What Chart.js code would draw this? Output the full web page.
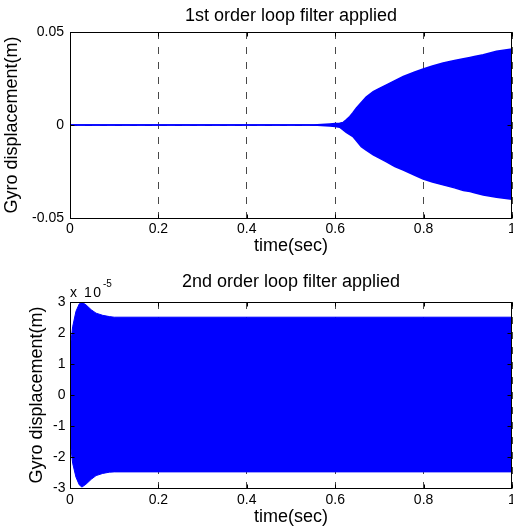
<!DOCTYPE html>
<html>
<head>
<meta charset="utf-8">
<script src="https://cdn.jsdelivr.net/npm/chart.js@4/dist/chart.umd.min.js"></script>
<style>
  html, body { margin: 0; padding: 0; background: #fff; overflow: hidden; width: 513px; height: 532px; }
  .wrap { position: absolute; left: 0; }
  canvas { display: block; }
</style>
</head>
<body>
<div class="wrap" style="top:0px"><canvas id="c1" width="525" height="258"></canvas></div>
<div class="wrap" style="top:258px"><canvas id="c2" width="525" height="274"></canvas></div>
<script>
// ---------- data ----------
// Top panel: envelope of the oscillating displacement (m), 1st order loop filter
const time1 = [0, 0.55, 0.588, 0.6, 0.61, 0.618, 0.625, 0.633, 0.64, 0.648, 0.659, 0.67, 0.686, 0.7, 0.716, 0.735, 0.754, 0.78, 0.799, 0.82, 0.844, 0.87, 0.89, 0.905, 0.915, 0.935, 0.965, 1];
const upper1 = [0, 0, 0.0006, 0.0008, 0.001, 0.0014, 0.0028, 0.0046, 0.0066, 0.0091, 0.0121, 0.015, 0.018, 0.0197, 0.0216, 0.0239, 0.0261, 0.0285, 0.0301, 0.0317, 0.0333, 0.0347, 0.0356, 0.0363, 0.0368, 0.0378, 0.0396, 0.0409];
const lower1 = [0, 0, -0.0006, -0.0008, -0.0012, -0.0026, -0.004, -0.0052, -0.0062, -0.0085, -0.0116, -0.0135, -0.016, -0.0178, -0.0198, -0.0223, -0.0242, -0.027, -0.029, -0.0306, -0.0322, -0.0338, -0.0352, -0.0358, -0.0364, -0.0376, -0.0388, -0.0399];

// Bottom panel: envelope in units of 1e-5 m, 2nd order loop filter
const time2 = [0, 0.002, 0.006, 0.0135, 0.021, 0.027, 0.036, 0.048, 0.059, 0.074, 0.089, 0.1, 1];
const upper2 = [0.8, 1.7, 2.2, 2.7, 2.94, 2.99, 2.91, 2.75, 2.64, 2.57, 2.53, 2.51, 2.51];
const lower2 = [-0.8, -1.7, -2.2, -2.65, -2.9, -2.97, -2.88, -2.72, -2.6, -2.53, -2.49, -2.48, -2.48];

// Tick labels
const xTickLabels = ['0', '0.2', '0.4', '0.6', '0.8', '1'];
const yTickLabels1 = ['-0.05', '0', '0.05'];
const yTickLabels2 = ['-3', '-2', '-1', '0', '1', '2', '3'];

const title1 = '1st order loop filter applied';
const title2 = '2nd order loop filter applied';
const xTitle = 'time(sec)';
const yTitle = 'Gyro displacement(m)';
const exponentBase = 'x 10';
const exponentPower = '-5';

// ---------- styling ----------
const FONT = "'Liberation Sans', Arial, Helvetica, sans-serif";
Chart.defaults.font.family = FONT;
Chart.defaults.color = '#000';
const BLUE = '#0000ff';
const GRID = 'rgba(40,40,40,0.85)';

function pts(t, v) { return t.map((x, i) => ({x: x, y: v[i]})); }

// Box + inward tick marks (MATLAB style)
const boxPlugin = {
  id: 'boxPlugin',
  afterDraw(chart) {
    const {ctx, chartArea: a, scales} = chart;
    const L = Math.floor(a.left) + 0.5, R = Math.ceil(a.right) - 0.5;
    const T = Math.floor(a.top) + 0.5, B = Math.floor(a.bottom) + 0.5;
    ctx.save();
    ctx.strokeStyle = '#000';
    ctx.lineWidth = 1;
    ctx.setLineDash([]);
    ctx.strokeRect(L, T, R - L, B - T);
    const len = 4;
    ctx.beginPath();
    scales.x.ticks.forEach(tk => {
      const px = Math.round(scales.x.getPixelForValue(tk.value)) + 0.5;
      ctx.moveTo(px, B); ctx.lineTo(px, B - len);
      ctx.moveTo(px, T); ctx.lineTo(px, T + len);
    });
    scales.y.ticks.forEach(tk => {
      const py = Math.round(scales.y.getPixelForValue(tk.value)) + 0.5;
      ctx.moveTo(L, py); ctx.lineTo(L + len, py);
      ctx.moveTo(R, py); ctx.lineTo(R - len, py);
    });
    ctx.stroke();
    ctx.restore();
  }
};

// exponent label for the bottom panel
const exponentPlugin = {
  id: 'exponentPlugin',
  afterDraw(chart) {
    if (!chart.options.plugins.exponentPlugin || !chart.options.plugins.exponentPlugin.show) return;
    const {ctx, chartArea: a} = chart;
    ctx.save();
    ctx.fillStyle = '#000';
    ctx.textAlign = 'left';
    ctx.textBaseline = 'alphabetic';
    ctx.font = '14px ' + FONT;
    try { ctx.letterSpacing = '1.5px'; } catch (e) {}
    const x0 = a.left;
    const base = a.top - 5.5;
    ctx.fillText(exponentBase, x0, base);
    const w = ctx.measureText(exponentBase).width;
    try { ctx.letterSpacing = '0px'; } catch (e) {}
    ctx.font = '10px ' + FONT;
    ctx.fillText(exponentPower, x0 + w + 0.5, base - 10);
    ctx.restore();
  }
};

function makeChart(id, cfg) {
  const xScaleHeight = cfg.xScaleHeight;
  return new Chart(document.getElementById(id), {
    type: 'line',
    data: {
      datasets: [
        {
          data: pts(cfg.t, cfg.up),
          borderColor: BLUE, backgroundColor: BLUE, borderWidth: cfg.lineWidth,
          pointRadius: 0, tension: 0, fill: '+1'
        },
        {
          data: pts(cfg.t, cfg.lo),
          borderColor: BLUE, backgroundColor: BLUE, borderWidth: cfg.lineWidth,
          pointRadius: 0, tension: 0, fill: false
        }
      ]
    },
    options: {
      responsive: false,
      animation: false,
      devicePixelRatio: 1,
      layout: { padding: { left: 0, right: 13, top: 0, bottom: 0 } },
      plugins: {
        legend: { display: false },
        tooltip: { enabled: false },
        title: {
          display: true, text: cfg.title, fullSize: false,
          font: { size: 18, weight: 'normal' }, color: '#000',
          padding: { top: cfg.titlePadTop, bottom: cfg.titlePadBottom }
        },
        exponentPlugin: { show: cfg.exponent }
      },
      scales: {
        x: {
          type: 'linear', min: 0, max: 1,
          afterFit(s) { s.height = xScaleHeight; },
          ticks: {
            stepSize: 0.2, autoSkip: false, maxRotation: 0,
            padding: cfg.xTickPad, font: { size: 14 },
            callback: (v, i) => xTickLabels[i]
          },
          grid: { color: GRID, lineWidth: 1, drawTicks: false, borderDash: [7, 8] },
          border: { display: false, dash: [7, 8] },
          title: {
            display: true, text: xTitle, font: { size: 18 },
            padding: { top: 0, bottom: cfg.xTitlePadBottom }
          }
        },
        y: {
          type: 'linear', min: cfg.ymin, max: cfg.ymax,
          afterFit(s) { s.width = 70; },
          ticks: {
            stepSize: cfg.ystep, autoSkip: false,
            padding: cfg.yTickPad, font: { size: 14 },
            callback: (v, i) => cfg.yLabels[i]
          },
          grid: { color: GRID, lineWidth: 1, drawTicks: false, borderDash: [7, 8] },
          border: { display: false, dash: [7, 8] },
          title: {
            display: true, text: yTitle, font: { size: 18 },
            padding: { top: cfg.yTitlePad, bottom: 0 }
          }
        }
      }
    },
    plugins: [boxPlugin, exponentPlugin]
  });
}

makeChart('c1', {
  t: time1, up: upper1, lo: lower1, lineWidth: 1.5,
  title: title1, titlePadTop: 5.5, titlePadBottom: 4.9,
  xScaleHeight: 40, xTickPad: 2.3, xTitlePadBottom: 0.9,
  ymin: -0.05, ymax: 0.05, ystep: 0.05, yLabels: yTickLabels1,
  yTickPad: 6, yTitlePad: 0.9, exponent: false
});

makeChart('c2', {
  t: time2, up: upper2, lo: lower2, lineWidth: 1,
  title: title2, titlePadTop: 13, titlePadBottom: 9.4,
  xScaleHeight: 44, xTickPad: 4, xTitlePadBottom: 4.5,
  ymin: -3, ymax: 3, ystep: 1, yLabels: yTickLabels2,
  yTickPad: 4.5, yTitlePad: 25.9, exponent: true
});
</script>
</body>
</html>
